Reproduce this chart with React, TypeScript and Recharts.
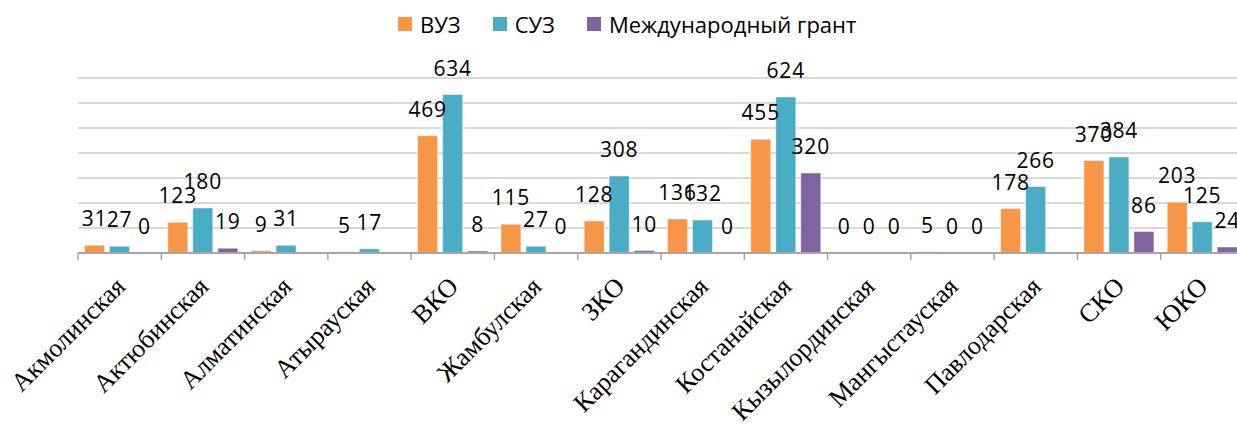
import { BarChart, Bar, XAxis, YAxis, CartesianGrid, Legend, LabelList } from 'recharts';

const regions = [
  'Акмолинская',
  'Актюбинская',
  'Алматинская',
  'Атырауская',
  'ВКО',
  'Жамбулская',
  'ЗКО',
  'Карагандинская',
  'Костанайская',
  'Кызылординская',
  'Мангыстауская',
  'Павлодарская',
  'СКО',
  'ЮКО',
];

const seriesNames = ['ВУЗ', 'СУЗ', 'Международный грант'];

const vuz = [31, 123, 9, 5, 469, 115, 128, 136, 455, 0, 5, 178, 370, 203];
const suz = [27, 180, 31, 17, 634, 27, 308, 132, 624, 0, 0, 266, 384, 125];
const grant = [0, 19, null, null, 8, 0, 10, 0, 320, 0, 0, null, 86, 24];

const yTicks = [0, 100, 200, 300, 400, 500, 600, 700];

const data = regions.map((region, i) => ({
  region,
  vuz: vuz[i],
  suz: suz[i],
  grant: grant[i],
}));

// layout
const CHART_W = 1260;
const CHART_H = 425;
const PLOT_LEFT = 78;
const PLOT_RIGHT = 1244;
const PLOT_TOP = 78;
const AXIS_Y = 253;
const band = (PLOT_RIGHT - PLOT_LEFT) / regions.length;

const AXIS_COLOR = '#A6A6A6';

function RegionTick(props: any) {
  const { x, y, payload, index } = props;
  const left = x - band / 2;
  const tx = x + 7;
  const ty = y + 35;
  return (
    <g>
      <line x1={left} y1={y} x2={left} y2={y + 7} stroke={AXIS_COLOR} strokeWidth={1.5} />
      {index === regions.length - 1 && (
        <line x1={x + band / 2} y1={y} x2={x + band / 2} y2={y + 7} stroke={AXIS_COLOR} strokeWidth={1.5} />
      )}
      <text
        x={tx}
        y={ty}
        textAnchor="end"
        transform={`rotate(-45 ${tx} ${ty})`}
        fontFamily="'Liberation Serif', 'Times New Roman', serif"
        fontSize={26}
        fill="#000"
      >
        {payload.value}
      </text>
    </g>
  );
}

function ValueLabel(props: any) {
  const { x, y, width, value } = props;
  if (value === null || value === undefined) return null;
  return (
    <text
      x={x + width / 2}
      y={y - 19}
      textAnchor="middle"
      fontFamily="'Open Sans', sans-serif"
      fontSize={21}
      letterSpacing={0.8}
      fill="#000"
    >
      {value}
    </text>
  );
}

function LegendContent({ payload }: any) {
  const items = [...(payload || [])].sort(
    (a: any, b: any) => seriesNames.indexOf(a.value) - seriesNames.indexOf(b.value)
  );
  return (
    <div
      style={{
        display: 'flex',
        alignItems: 'center',
        fontFamily: "'Open Sans', sans-serif",
        fontSize: 22,
        lineHeight: '22px',
        color: '#000',
        whiteSpace: 'nowrap',
      }}
    >
      {items.map((entry: any, i: number) => (
        <div key={i} style={{ display: 'flex', alignItems: 'center', marginRight: 32 }}>
          <span style={{ display: 'inline-block', width: 14, height: 14, background: entry.color, marginRight: 8 }} />
          <span>{entry.value}</span>
        </div>
      ))}
    </div>
  );
}

export default function App() {
  return (
    <div
      style={{
        position: 'absolute',
        left: 0,
        top: 0,
        width: 1237,
        height: 425,
        overflow: 'hidden',
        background: '#fff',
      }}
    >
      <BarChart
        width={CHART_W}
        height={CHART_H}
        data={data}
        margin={{ top: PLOT_TOP, left: PLOT_LEFT, right: CHART_W - PLOT_RIGHT, bottom: 0 }}
        barCategoryGap="7.8%"
        barGap={5}
      >
        <CartesianGrid horizontal vertical={false} stroke="#D9D9D9" strokeWidth={2} />
        <XAxis
          dataKey="region"
          height={CHART_H - AXIS_Y}
          interval={0}
          tickSize={0}
          tickMargin={0}
          tickLine={false}
          axisLine={{ stroke: AXIS_COLOR, strokeWidth: 2 }}
          tick={<RegionTick />}
        />
        <YAxis hide domain={[0, 700]} ticks={yTicks} />
        <Legend
          verticalAlign="middle"
          align="center"
          layout="horizontal"
          content={<LegendContent />}
          wrapperStyle={{ top: 13, left: 398, width: 700 }}
        />
        <Bar dataKey="vuz" name={seriesNames[0]} fill="#F79646" stroke="#ffffff" strokeOpacity={0.45} strokeWidth={1} minPointSize={0.01} isAnimationActive={false}>
          <LabelList dataKey="vuz" content={<ValueLabel />} />
        </Bar>
        <Bar dataKey="suz" name={seriesNames[1]} fill="#4BACC6" stroke="#ffffff" strokeOpacity={0.45} strokeWidth={1} minPointSize={0.01} isAnimationActive={false}>
          <LabelList dataKey="suz" content={<ValueLabel />} />
        </Bar>
        <Bar dataKey="grant" name={seriesNames[2]} fill="#8064A2" stroke="#ffffff" strokeOpacity={0.45} strokeWidth={1} minPointSize={0.01} isAnimationActive={false}>
          <LabelList dataKey="grant" content={<ValueLabel />} />
        </Bar>
      </BarChart>
    </div>
  );
}
